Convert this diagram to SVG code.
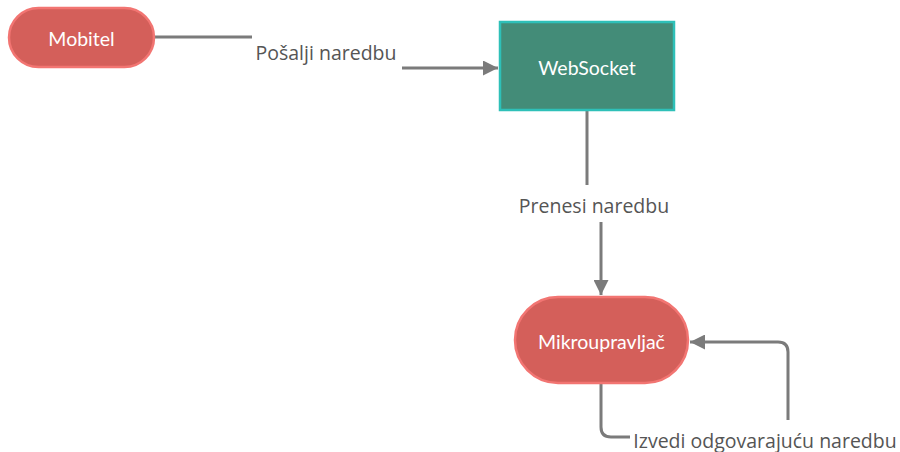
<svg xmlns="http://www.w3.org/2000/svg" width="900" height="452" viewBox="0 0 900 452">
<defs>
<marker id="arr" viewBox="0 0 10 10" refX="10" refY="5" markerWidth="5" markerHeight="5" markerUnits="strokeWidth" orient="auto">
<path d="M0,0 L10,5 L0,10 z" fill="#7b7b7b"/>
</marker>
<style>
.pill{fill:#d45f5a;stroke:#f27572;stroke-width:2.5}
.box{fill:#438c78;stroke:#2ec0b8;stroke-width:2.5}
.nt{font-family:Lato,"Liberation Sans",sans-serif;font-size:19.5px;fill:#ffffff;text-anchor:middle;dominant-baseline:central}
.lbl{font-family:"Open Sans","Liberation Sans",sans-serif;font-size:19.5px;fill:#555555;text-anchor:middle;dominant-baseline:central}
.c{fill:none;stroke:#7b7b7b;stroke-width:3}
</style>
</defs>
<rect width="900" height="452" fill="#ffffff"/>
<g id="connectors">
<path class="c" d="M154,37 H252"/>
<path class="c" d="M402,68 H498" marker-end="url(#arr)"/>
<text class="lbl" x="326" y="52">Pošalji naredbu</text>
<path class="c" d="M587,110 V185"/>
<path class="c" d="M601,222 V295" marker-end="url(#arr)"/>
<text class="lbl" x="594" y="205">Prenesi naredbu</text>
<path class="c" d="M601,383 V427 Q601,437 611,437 H630"/>
<path class="c" d="M788,420 V352 Q788,342 778,342 H690" marker-end="url(#arr)"/>
<text class="lbl" x="765" y="440">Izvedi odgovarajuću naredbu</text>
</g>
<g id="mobitel">
<rect class="pill" x="9" y="8" width="145" height="59" rx="29.5"/>
<text class="nt" x="81.5" y="38">Mobitel</text>
</g>
<g id="websocket">
<rect class="box" x="500" y="22" width="174" height="88"/>
<text class="nt" x="587" y="67">WebSocket</text>
</g>
<g id="mikroupravljac">
<rect class="pill" x="515" y="297" width="173" height="86" rx="43"/>
<text class="nt" x="601.5" y="341">Mikroupravljač</text>
</g>
</svg>
